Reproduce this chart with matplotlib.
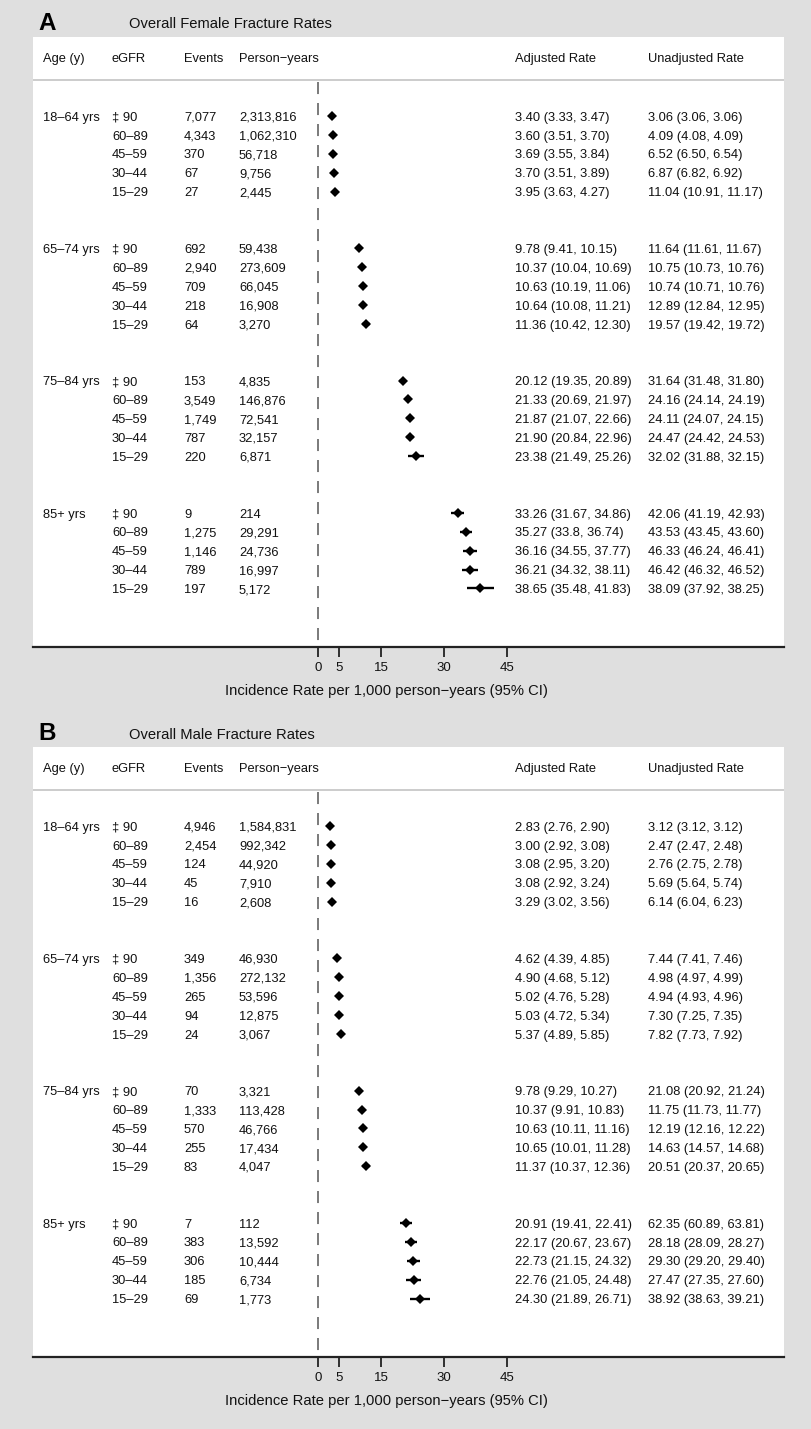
import matplotlib
matplotlib.use("Agg")
import matplotlib.pyplot as plt
import matplotlib.transforms as mtransforms
from matplotlib import font_manager

# ---------------- data ----------------
age_groups = ["18–64 yrs", "65–74 yrs", "75–84 yrs", "85+ yrs"]
egfr_levels = ["‡ 90", "60–89", "45–59", "30–44", "15–29"]

# Female (panel A)
f_events = ["7,077", "4,343", "370", "67", "27",
            "692", "2,940", "709", "218", "64",
            "153", "3,549", "1,749", "787", "220",
            "9", "1,275", "1,146", "789", "197"]
f_pyears = ["2,313,816", "1,062,310", "56,718", "9,756", "2,445",
            "59,438", "273,609", "66,045", "16,908", "3,270",
            "4,835", "146,876", "72,541", "32,157", "6,871",
            "214", "29,291", "24,736", "16,997", "5,172"]
f_adj = ["3.40", "3.60", "3.69", "3.70", "3.95",
         "9.78", "10.37", "10.63", "10.64", "11.36",
         "20.12", "21.33", "21.87", "21.90", "23.38",
         "33.26", "35.27", "36.16", "36.21", "38.65"]
f_adj_lo = ["3.33", "3.51", "3.55", "3.51", "3.63",
            "9.41", "10.04", "10.19", "10.08", "10.42",
            "19.35", "20.69", "21.07", "20.84", "21.49",
            "31.67", "33.8", "34.55", "34.32", "35.48"]
f_adj_hi = ["3.47", "3.70", "3.84", "3.89", "4.27",
            "10.15", "10.69", "11.06", "11.21", "12.30",
            "20.89", "21.97", "22.66", "22.96", "25.26",
            "34.86", "36.74", "37.77", "38.11", "41.83"]
f_unadj = ["3.06 (3.06, 3.06)", "4.09 (4.08, 4.09)", "6.52 (6.50, 6.54)", "6.87 (6.82, 6.92)", "11.04 (10.91, 11.17)",
           "11.64 (11.61, 11.67)", "10.75 (10.73, 10.76)", "10.74 (10.71, 10.76)", "12.89 (12.84, 12.95)", "19.57 (19.42, 19.72)",
           "31.64 (31.48, 31.80)", "24.16 (24.14, 24.19)", "24.11 (24.07, 24.15)", "24.47 (24.42, 24.53)", "32.02 (31.88, 32.15)",
           "42.06 (41.19, 42.93)", "43.53 (43.45, 43.60)", "46.33 (46.24, 46.41)", "46.42 (46.32, 46.52)", "38.09 (37.92, 38.25)"]

# Male (panel B)
m_events = ["4,946", "2,454", "124", "45", "16",
            "349", "1,356", "265", "94", "24",
            "70", "1,333", "570", "255", "83",
            "7", "383", "306", "185", "69"]
m_pyears = ["1,584,831", "992,342", "44,920", "7,910", "2,608",
            "46,930", "272,132", "53,596", "12,875", "3,067",
            "3,321", "113,428", "46,766", "17,434", "4,047",
            "112", "13,592", "10,444", "6,734", "1,773"]
m_adj = ["2.83", "3.00", "3.08", "3.08", "3.29",
         "4.62", "4.90", "5.02", "5.03", "5.37",
         "9.78", "10.37", "10.63", "10.65", "11.37",
         "20.91", "22.17", "22.73", "22.76", "24.30"]
m_adj_lo = ["2.76", "2.92", "2.95", "2.92", "3.02",
            "4.39", "4.68", "4.76", "4.72", "4.89",
            "9.29", "9.91", "10.11", "10.01", "10.37",
            "19.41", "20.67", "21.15", "21.05", "21.89"]
m_adj_hi = ["2.90", "3.08", "3.20", "3.24", "3.56",
            "4.85", "5.12", "5.28", "5.34", "5.85",
            "10.27", "10.83", "11.16", "11.28", "12.36",
            "22.41", "23.67", "24.32", "24.48", "26.71"]
m_unadj = ["3.12 (3.12, 3.12)", "2.47 (2.47, 2.48)", "2.76 (2.75, 2.78)", "5.69 (5.64, 5.74)", "6.14 (6.04, 6.23)",
           "7.44 (7.41, 7.46)", "4.98 (4.97, 4.99)", "4.94 (4.93, 4.96)", "7.30 (7.25, 7.35)", "7.82 (7.73, 7.92)",
           "21.08 (20.92, 21.24)", "11.75 (11.73, 11.77)", "12.19 (12.16, 12.22)", "14.63 (14.57, 14.68)", "20.51 (20.37, 20.65)",
           "62.35 (60.89, 63.81)", "28.18 (28.09, 28.27)", "29.30 (29.20, 29.40)", "27.47 (27.35, 27.60)", "38.92 (38.63, 39.21)"]

headers = ["Age (y)", "eGFR", "Events", "Person−years", "Adjusted Rate", "Unadjusted Rate"]
x_ticks = [0, 5, 15, 30, 45]
x_label = "Incidence Rate per 1,000 person−years (95% CI)"
panel_titles = [("A", "Overall Female Fracture Rates"), ("B", "Overall Male Fracture Rates")]

# ---------------- style ----------------
names = {f.name for f in font_manager.fontManager.ttflist}
body_font = ["Liberation Sans", "DejaVu Sans"]
narrow_font = (["Liberation Sans Narrow"] if "Liberation Sans Narrow" in names else []) + ["Liberation Sans", "DejaVu Sans"]
plt.rcParams["font.family"] = body_font

W, H = 812, 1429
BG = "#dfdfdf"
fig = plt.figure(figsize=(W / 100, H / 100), dpi=100, facecolor=BG)

ROW = 18.9          # pixels per row
FIRST_ROW = 116     # pixel y of the first data row (panel A)
XPIX0 = 318         # pixel x of rate 0
PX_PER_UNIT = 4.2
LEFT, RIGHT = 33, 784
col_x = [43, 112, 184, 239, 515, 648]   # pixel x of text columns
FS = 9.3
TXT = "#111111"
BASE_OFF = 4.7 / ROW   # baseline offset below the row centre (in row units)


def panel(offset, title, data):
    events, pyears, adj, lo, hi, unadj = data
    top, bottom = 37 + offset, 647 + offset
    ax = fig.add_axes([LEFT / W, 1 - bottom / H, (RIGHT - LEFT) / W, (bottom - top) / H])
    ax.set_facecolor("white")
    first = FIRST_ROW + offset
    ax.set_xlim((LEFT - XPIX0) / PX_PER_UNIT, (RIGHT - XPIX0) / PX_PER_UNIT)
    ax.set_ylim((bottom - first) / ROW, (top - first) / ROW)
    for s in ["top", "left", "right"]:
        ax.spines[s].set_visible(False)
    ax.spines["bottom"].set_linewidth(1.6)
    ax.spines["bottom"].set_color("#222222")
    ax.set_yticks([])
    ax.set_xticks(x_ticks)
    ax.set_xticklabels([str(t) for t in x_ticks], family=narrow_font, fontsize=9.5)
    ax.tick_params(axis="x", direction="out", length=7.5, width=1.2, pad=3, colors=TXT)

    trans = mtransforms.blended_transform_factory(ax.transAxes, ax.transData)
    fx = lambda px: (px - LEFT) / (RIGHT - LEFT)

    def put(px, y, s):
        ax.text(fx(px), y + BASE_OFF, s, transform=trans, fontsize=FS, va="baseline", ha="left", color=TXT)

    # header
    hdr_y = (57 + offset - first) / ROW
    for cx, h in zip(col_x, headers):
        put(cx, hdr_y, h)
    sep_y = (80 + offset - first) / ROW
    ax.axhline(sep_y, color="#c4c4c4", lw=1.2)

    # reference dashed line
    ax.plot([0, 0], [sep_y + 0.1, (bottom - first) / ROW], color="#7a7a7a", lw=1.4,
            linestyle=(0, (6.2, 4.6)))

    k = 0
    for g, age in enumerate(age_groups):
        for i, lev in enumerate(egfr_levels):
            y = g * 7 + i
            if i == 0:
                put(col_x[0], y, age)
            put(col_x[1], y, lev)
            put(col_x[2], y, events[k])
            put(col_x[3], y, pyears[k])
            put(col_x[4], y, f"{adj[k]} ({lo[k]}, {hi[k]})")
            put(col_x[5], y, unadj[k])
            ax.plot([float(lo[k]), float(hi[k])], [y, y], color="black", lw=1.7, solid_capstyle="butt")
            ax.plot(float(adj[k]), y, marker="D", color="black", markersize=4.8, markeredgewidth=0)
            k += 1

    # panel title
    fig.text(38 / W, 1 - (30 + offset) / H, title[0], fontsize=17.5, fontweight="bold",
             va="baseline", ha="left")
    fig.text(129 / W, 1 - (28.5 + offset) / H, title[1], fontsize=10.6, va="baseline", ha="left", color=TXT)
    # x label
    fig.text(386 / W, 1 - (695 + offset) / H, x_label, fontsize=10.6, va="baseline", ha="center",
             family=narrow_font, color=TXT)
    return ax


panel(0, panel_titles[0], (f_events, f_pyears, f_adj, f_adj_lo, f_adj_hi, f_unadj))
panel(710, panel_titles[1], (m_events, m_pyears, m_adj, m_adj_lo, m_adj_hi, m_unadj))

fig.savefig("out.png", dpi=100, facecolor=BG)
